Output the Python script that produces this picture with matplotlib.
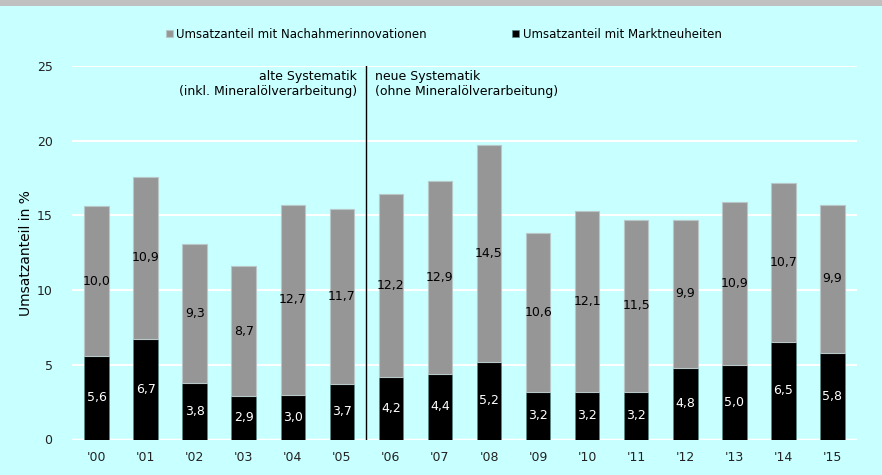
import matplotlib.pyplot as plt
import numpy as np
from matplotlib.patches import Rectangle

# Daten
jahre = ["'00", "'01", "'02", "'03", "'04", "'05", "'06", "'07",
         "'08", "'09", "'10", "'11", "'12", "'13", "'14", "'15"]
marktneuheiten = [5.6, 6.7, 3.8, 2.9, 3.0, 3.7, 4.2, 4.4,
                  5.2, 3.2, 3.2, 3.2, 4.8, 5.0, 6.5, 5.8]
nachahmer = [10.0, 10.9, 9.3, 8.7, 12.7, 11.7, 12.2, 12.9,
             14.5, 10.6, 12.1, 11.5, 9.9, 10.9, 10.7, 9.9]

plt.rcParams['font.family'] = ['DejaVu Sans']
bg = '#c8ffff'
grau = '#969696'

fig = plt.figure(figsize=(8.82, 4.75), dpi=100, facecolor=bg)
ax = fig.add_axes([72 / 882, 35.5 / 475, 785 / 882, 373.5 / 475], facecolor=bg)

# grauer Balken oben
fig.patches.append(Rectangle((0, 1 - 6 / 475), 1, 6 / 475, transform=fig.transFigure,
                             facecolor='#c0c0c0', edgecolor='none', zorder=0))

x = np.arange(len(jahre))
b1 = ax.bar(x, marktneuheiten, width=0.5, color='black', edgecolor='#5a8a8a',
            linewidth=0.5, label='Umsatzanteil mit Marktneuheiten', zorder=3)
b2 = ax.bar(x, nachahmer, width=0.5, bottom=marktneuheiten, color=grau,
            edgecolor='#b8c8c8', linewidth=0.8,
            label='Umsatzanteil mit Nachahmerinnovationen', zorder=3)

# Datenbeschriftungen
for i in range(len(jahre)):
    ax.text(x[i], marktneuheiten[i] / 2, f"{marktneuheiten[i]:.1f}".replace('.', ','),
            ha='center', va='center', color='white', fontsize=9, zorder=4)
    ax.text(x[i], marktneuheiten[i] + nachahmer[i] / 2, f"{nachahmer[i]:.1f}".replace('.', ','),
            ha='center', va='center', color='black', fontsize=9, zorder=4)

# Trennlinie alte/neue Systematik
ax.axvline(5.5, color='black', linewidth=1, zorder=4)
ax.annotate("alte Systematik\n(inkl. Mineralölverarbeitung)", xy=(5.5, 24.75),
            xytext=(-7, 0), textcoords='offset points', ha='right', va='top',
            fontsize=9, multialignment='right')
ax.annotate("neue Systematik\n(ohne Mineralölverarbeitung)", xy=(5.5, 24.75),
            xytext=(6, 0), textcoords='offset points', ha='left', va='top',
            fontsize=9, multialignment='left')

ax.set_xlim(-0.5, 15.5)
ax.set_ylim(0, 25)
ax.set_yticks([0, 5, 10, 15, 20, 25])
ax.set_xticks(x)
ax.set_xticklabels(jahre)
ax.tick_params(length=0, labelsize=9, colors='#222222')
ax.tick_params(axis='y', pad=14)
ax.tick_params(axis='x', pad=8)
ax.grid(axis='y', color='white', linewidth=1.5, zorder=0)
ax.set_axisbelow(True)
for s in ax.spines.values():
    s.set_visible(False)
ax.axhline(0, color='white', linewidth=2.5, zorder=2)
ax.set_ylabel("Umsatzanteil in %", fontsize=10, labelpad=3)

handles = [b2, b1]
fig.legend(handles, [h.get_label() for h in handles], loc='center',
           bbox_to_anchor=(0.503, 1 - 34 / 475), ncol=2, frameon=False,
           fontsize=8.5, handlelength=0.6, handleheight=0.6, handletextpad=0.3,
           columnspacing=7.2)

fig.savefig('out.png', dpi=100, facecolor=bg)
